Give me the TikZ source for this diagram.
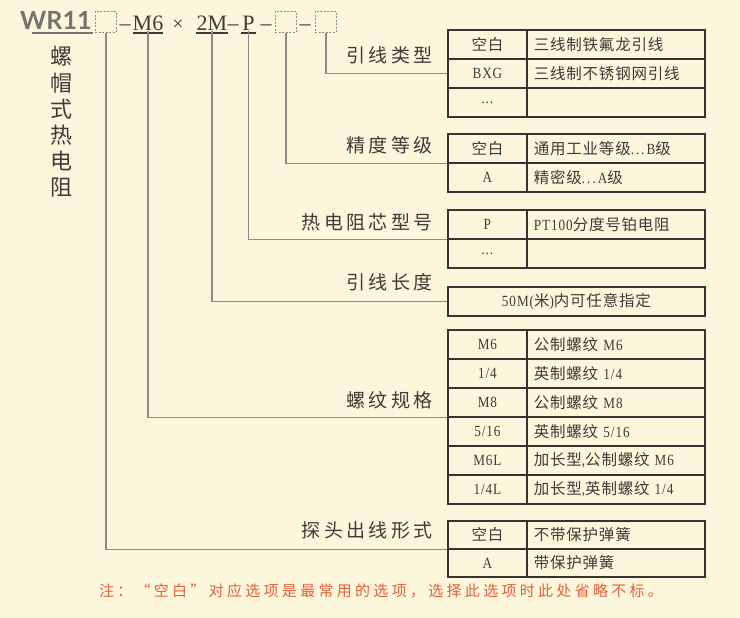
\documentclass[tikz,border=0pt]{standalone}
\usepackage{fontspec}
\setmainfont{Liberation Serif}[FakeStretch=0.85,LetterSpace=6]
\newfontfamily\hdrfont{Liberation Serif}
\newfontfamily\cjk{Noto Sans CJK SC}
\newfontfamily\cjkt{Noto Sans CJK SC}[LetterSpace=5]
\newfontfamily\cjkls{Noto Sans CJK SC}[LetterSpace=18]
\newfontfamily\cjknote{Noto Sans CJK SC}[LetterSpace=22]
\newfontfamily\latofont{Lato}
\definecolor{bgc}{HTML}{FCF6DC}
\definecolor{tbl}{HTML}{363330}
\definecolor{txt}{HTML}{3E3B38}
\definecolor{conc}{HTML}{8C8A86}
\definecolor{notec}{HTML}{E5603A}
\definecolor{wrc}{HTML}{757370}
\newcommand\spdots{.\hspace{2pt}.\hspace{2pt}.\hspace{2pt}}
\tikzset{
  conn/.style={draw=conc, line width=1.3pt},
  dbox/.style={draw=conc, dashed, dash pattern=on 2pt off 1.5pt, line width=0.9pt, minimum width=21pt, minimum height=21pt, inner sep=0pt, anchor=north west},
  hdr/.style={font=\hdrfont\fontsize{22}{22}\selectfont, text=txt, inner sep=0pt, anchor=base, text depth=0pt},
  uline/.style={draw=txt, line width=1.1pt},
  lab/.style={font=\cjkls\fontsize{19}{20}\selectfont, text=txt, inner sep=0pt, anchor=east},
  lcell/.style={draw=tbl, line width=1.8pt, minimum width=79pt, inner sep=0pt, anchor=north west, text=txt, font=\fontsize{15.5}{16}\selectfont},
  rcell/.style={draw=tbl, line width=1.8pt, minimum width=178pt, text width=164pt, inner xsep=7pt, inner ysep=0pt, align=left, anchor=north west, text=txt, font=\fontsize{15.5}{16}\selectfont},
}
\newcommand\trow[5]{%
  \node[lcell, minimum height=#3] (#1l) at (447,#2) {#4};
  \node[rcell, minimum height=#3] (#1r) at (526,#2) {#5};}
\begin{document}
\begin{tikzpicture}[x=1pt,y=-1pt]
\fill[bgc] (0,0) rectangle (740,618);
\useasboundingbox (0,0) rectangle (740,618);

% header
\node[font=\latofont\bfseries\fontsize{25}{25}\selectfont, text=wrc, inner sep=0pt, anchor=base west] (wr) at (20,30) {WR11};
\draw[uline, draw=wrc] (32,33) -- (93,33);
\node[dbox] (b1) at (95,11) {};
\node[hdr] (d1) at (125,31) {–};
\node[hdr] (m6) at (148,31) {M6};
\node[hdr, font=\hdrfont\fontsize{20}{20}\selectfont] (x) at (178,31) {×};
\node[hdr] (tm) at (212,31) {2M};
\node[hdr] (d2) at (233,31) {–};
\node[hdr] (p) at (248.5,31) {P};
\node[hdr] (d3) at (266,31) {–};
\node[dbox] (b2) at (275,11) {};
\node[hdr] (d4) at (305,31) {–};
\node[dbox] (b3) at (315,11) {};
\draw[uline] (133,33) -- (163,33);
\draw[uline] (196,33) -- (228,33);
\draw[uline] (241,33) -- (256,33);

% vertical title
\node[font=\cjk\fontsize{22}{26.2}\selectfont, text=txt, align=center, inner sep=0pt] (title) at (61,122) {螺\\帽\\式\\热\\电\\阻};

% table 1: lead type
\trow{ta}{29}{29pt}{\cjkt 空白}{\cjkt 三线制铁氟龙引线}
\trow{tb}{58}{29pt}{BXG}{\cjkt 三线制不锈钢网引线}
\trow{tc}{87}{29pt}{...}{}
\node[lab] (la1) at (433,55) {引线类型};

% table 2: accuracy
\trow{td}{133}{29pt}{\cjkt 空白}{{\cjkt 通用工业等级}\spdots B{\cjkt 级}}
\trow{te}{162}{29pt}{A}{{\cjkt 精密级}\spdots A{\cjkt 级}}
\node[lab] (la2) at (433,145) {精度等级};

% table 3: RTD element
\trow{tf}{209}{29pt}{P}{PT100{\cjkt 分度号铂电阻}}
\trow{tg}{238}{29pt}{...}{}
\node[lab] (la3) at (433,222) {热电阻芯型号};

% table 4: lead length
\node[lcell, minimum width=257pt, minimum height=29pt] (th) at (447,286) {50M({\cjkt 米}){\cjkt 内可任意指定}};
\node[lab] (la4) at (433,282) {引线长度};

% table 5: thread
\trow{ti}{329}{29pt}{M6}{{\cjkt 公制螺纹} M6}
\trow{tj}{358}{29pt}{1/4}{{\cjkt 英制螺纹} 1/4}
\trow{tk}{387}{29pt}{M8}{{\cjkt 公制螺纹} M8}
\trow{tl}{416}{29pt}{5/16}{{\cjkt 英制螺纹} 5/16}
\trow{tm}{445}{29pt}{M6L}{{\cjkt 加长型},{\cjkt 公制螺纹} M6}
\trow{tn}{474}{29pt}{1/4L}{{\cjkt 加长型},{\cjkt 英制螺纹} 1/4}
\node[lab] (la5) at (433,400) {螺纹规格};

% table 6: probe
\trow{to}{520}{28pt}{\cjkt 空白}{\cjkt 不带保护弹簧}
\trow{tp}{548}{28pt}{A}{\cjkt 带保护弹簧}
\node[lab] (la6) at (433,530) {探头出线形式};

% connectors
\draw[conn] (b3.south) |- (tbl.west);
\draw[conn] (b2.south) |- (tdl.south west);
\draw[conn] (p.south) |- (tfl.south west);
\draw[conn] (tm.south) |- (th.west);
\draw[conn] (m6.south) |- (tkl.south west);
\draw[conn] (b1.south) |- (tol.south west);

% note
\node[font=\cjknote\fontsize{15}{16}\selectfont, text=notec, inner sep=0pt] (note) at (381,591) {注：“空白”对应选项是最常用的选项，选择此选项时此处省略不标。};
\end{tikzpicture}
\end{document}
